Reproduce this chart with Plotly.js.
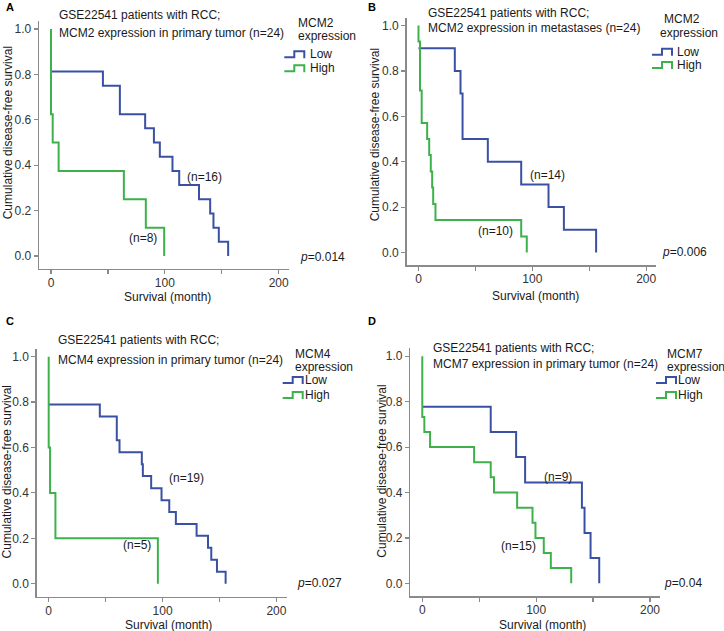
<!DOCTYPE html>
<html>
<head>
<meta charset="utf-8">
<script src="https://cdn.plot.ly/plotly-3.0.1.min.js"></script>
<style>html,body{margin:0;padding:0;background:#fff;}#chart{width:724px;height:631px;}</style>
</head>
<body>
<div id="chart"></div>
<script>
// ---- Data ----
const xTickVals = [0, 50, 100, 150, 200];
const xTickText = ['0', '', '100', '', '200'];
const yTickVals = [0, 0.2, 0.4, 0.6, 0.8, 1.0];
const groupNames = ['Low', 'High'];

// Panel A: MCM2 primary tumor
const aLowT  = [0, 45.6, 60.5, 82.7, 90.4, 95.6, 106.7, 112.6, 130, 139.8, 142.7, 147.4, 155.6];
const aLowS  = [0.8125, 0.75, 0.625, 0.5625, 0.5, 0.4375, 0.375, 0.3125, 0.25, 0.1875, 0.125, 0.0625, 0];
const aHighT = [0, 0, 1.5, 6.7, 64, 83.3, 99.4];
const aHighS = [1, 0.625, 0.5, 0.375, 0.25, 0.125, 0];

// Panel B: MCM2 metastases
const bLowT  = [0, 31.9, 36.9, 38.7, 60.9, 90.2, 114.2, 127.7, 156];
const bLowS  = [0.9, 0.8, 0.7, 0.5, 0.4, 0.3, 0.2, 0.1, 0];
const bHighT = [0, 0, 1.3, 2.8, 7.6, 9.4, 10.8, 12, 12.9, 14.9, 90.2, 95.1];
const bHighS = [1, 0.929, 0.714, 0.571, 0.5, 0.429, 0.357, 0.286, 0.214, 0.143, 0.071, 0];

// Panel C: MCM4 primary tumor
const cLowT  = [0, 44.9, 59.8, 62.2, 81.8, 82.7, 90, 99.1, 105.9, 111.7, 129.9, 139.9, 142.8, 147.8, 155.4];
const cLowS  = [0.789, 0.737, 0.632, 0.579, 0.526, 0.474, 0.421, 0.368, 0.316, 0.263, 0.211, 0.158, 0.105, 0.053, 0];
const cHighT = [0, 0, 1.2, 5.9, 95.9];
const cHighS = [1, 0.6, 0.4, 0.2, 0];

// Panel D: MCM7 primary tumor
const dLowT  = [0, 60.1, 82.4, 90.3, 140.2, 142.5, 147.8, 155.4];
const dLowS  = [0.778, 0.667, 0.556, 0.444, 0.333, 0.222, 0.111, 0];
const dHighT = [0, 0, 1.8, 6.8, 45.5, 60.1, 63, 83.3, 96.8, 99.4, 106.7, 112.9, 130.8];
const dHighS = [1, 0.733, 0.667, 0.6, 0.533, 0.467, 0.4, 0.333, 0.267, 0.2, 0.133, 0.067, 0];

const panelLetters = ['A', 'B', 'C', 'D'];
const genes = ['MCM2', 'MCM2', 'MCM4', 'MCM7'];
const titleLine1 = 'GSE22541 patients with RCC;';
const titleLine2 = ['MCM2 expression in primary tumor (n=24)', 'MCM2 expression in metastases (n=24)',
                    'MCM4 expression in primary tumor (n=24)', 'MCM7 expression in primary tumor (n=24)'];
const nLow  = ['(n=16)', '(n=14)', '(n=19)', '(n=9)'];
const nHigh = ['(n=8)', '(n=10)', '(n=5)', '(n=15)'];
const pValues = ['0.014', '0.006', '0.027', '0.04'];
const xTitle = 'Survival (month)';
const yTitle = 'Cumulative disease-free survival';

// ---- Layout geometry (pixels) ----
const W = 724, H = 631;
const fx = p => p / W;
const fy = p => 1 - p / H;
const XMIN = -10.5, XMAX = 209, YMIN = -0.057, YMAX = 1.035;
const PXM = 1.1385, PXU = 227;   // px per month, px per unit survival

const geo = [
  {x0: 51,    y0: 256,   title: [57.3, 15, 33.3], nL: [204, 177], nH: [142.7, 237.7], p: [297.7, 256.7],
   leg: {tx: [295.7, 295.7], ty: [22.7, 36], ix: 284.3, lx: 308, ly: [54.3, 68.3]}, xt: [167.7, 297], yt: [8.3, 133], lab: [4, 7]},
  {x0: 418.5, y0: 252.5, title: [426.3, 12.7, 28.3], nL: [547, 175], nH: [495.3, 230.7], p: [659.7, 252.3],
   leg: {tx: [662, 657.5], ty: [19.3, 33.3], ix: 652, lx: 675.3, ly: [51.7, 65]}, xt: [535.3, 295.5], yt: [375.3, 135], lab: [366, 7]},
  {x0: 48.7,  y0: 583.7, title: [56, 340, 360], nL: [186.7, 478.3], nH: [136.7, 545], p: [295, 583.3],
   leg: {tx: [293.3, 293.3], ty: [354.3, 367.3], ix: 282.7, lx: 303.3, ly: [380, 395]}, xt: [168.3, 624.5], yt: [6.7, 471.7], lab: [4, 321]},
  {x0: 422.3, y0: 583.3, title: [431.3, 348.3, 364.3], nL: [558, 477.3], nH: [518, 546], p: [662, 583.3],
   leg: {tx: [665, 665], ty: [354.3, 367.3], ix: 656, lx: 676.3, ly: [380, 395]}, xt: [542, 624.5], yt: [382, 471.7], lab: [366, 321]}
];

const BLUE = '#3a51a3', GREEN = '#3db24b';
const FONT = 'Arial, "Liberation Sans", sans-serif';
const TXT = '#1a1a1a';
const AXC = '#8a8a8a';

const series = [
  [aLowT, aLowS, aHighT, aHighS],
  [bLowT, bLowS, bHighT, bHighS],
  [cLowT, cLowS, cHighT, cHighS],
  [dLowT, dLowS, dHighT, dHighS]
];

const traces = [];
const layout = {
  width: W, height: H,
  margin: {l: 0, r: 0, t: 0, b: 0},
  paper_bgcolor: '#fff', plot_bgcolor: '#fff',
  showlegend: false,
  font: {family: FONT, size: 12, color: TXT},
  annotations: [], shapes: []
};

geo.forEach((g, i) => {
  const sfx = i === 0 ? '' : String(i + 1);
  const xa = 'x' + sfx, ya = 'y' + sfx;
  const left = g.x0 + XMIN * PXM, right = g.x0 + XMAX * PXM;
  const top = g.y0 - YMAX * PXU, bottom = g.y0 - YMIN * PXU;
  const axCommon = {
    showgrid: false, zeroline: false, showline: true, linecolor: AXC, linewidth: 1.5,
    ticks: 'outside', ticklen: 4, tickwidth: 1.2, tickcolor: AXC,
    tickfont: {family: FONT, size: 12, color: '#333'}, fixedrange: true
  };
  layout['xaxis' + sfx] = Object.assign({}, axCommon, {
    domain: [fx(left), fx(right)], range: [XMIN, XMAX], anchor: ya,
    tickmode: 'array', tickvals: xTickVals, ticktext: xTickText, ticklabelstandoff: -2
  });
  layout['yaxis' + sfx] = Object.assign({}, axCommon, {
    domain: [fy(bottom), fy(top)], range: [YMIN, YMAX], anchor: xa,
    tickmode: 'array', tickvals: yTickVals, tickformat: '.1f'
  });
  const s = series[i];
  traces.push({x: s[0], y: s[1], xaxis: xa, yaxis: ya, type: 'scatter', mode: 'lines',
               line: {shape: 'hv', color: BLUE, width: 2}, name: groupNames[0]});
  traces.push({x: s[2], y: s[3], xaxis: xa, yaxis: ya, type: 'scatter', mode: 'lines',
               line: {shape: 'hv', color: GREEN, width: 2}, name: groupNames[1]});

  const ann = (text, px, py, xanchor, extra) => layout.annotations.push(Object.assign({
    text, x: fx(px), y: fy(py), xref: 'paper', yref: 'paper', xanchor: xanchor || 'center', yanchor: 'middle',
    showarrow: false, font: {family: FONT, size: 12, color: TXT}
  }, extra || {}));

  ann(titleLine1, g.title[0], g.title[1], 'left');
  ann(titleLine2[i], g.title[0], g.title[2], 'left');
  ann(nLow[i], g.nL[0], g.nL[1]);
  ann(nHigh[i], g.nH[0], g.nH[1]);
  ann('<i>p</i>=' + pValues[i], g.p[0], g.p[1], 'left');
  ann(genes[i], g.leg.tx[0], g.leg.ty[0], 'left');
  ann('expression', g.leg.tx[1], g.leg.ty[1], 'left');
  ann(groupNames[0], g.leg.lx, g.leg.ly[0], 'left');
  ann(groupNames[1], g.leg.lx, g.leg.ly[1], 'left');
  ann(xTitle, g.xt[0], g.xt[1]);
  ann(yTitle, g.yt[0], g.yt[1], 'center', {textangle: -90});
  ann('<b>' + panelLetters[i] + '</b>', g.lab[0], g.lab[1], 'left', {font: {family: FONT, size: 11, color: '#000'}});

  // legend icons (step glyphs)
  [[BLUE, g.leg.ly[0]], [GREEN, g.leg.ly[1]]].forEach(([col, ly]) => {
    const x1 = g.leg.ix, x2 = x1 + 10, x3 = x1 + 20;
    const yb = ly + 3, yt = ly - 3;
    const path = `M ${fx(x1)} ${fy(yb)} L ${fx(x2)} ${fy(yb)} L ${fx(x2)} ${fy(yt)} L ${fx(x3)} ${fy(yt)} L ${fx(x3)} ${fy(yb + 1)}`;
    layout.shapes.push({type: 'path', xref: 'paper', yref: 'paper', path, line: {color: col, width: 2}});
  });
});

Plotly.newPlot('chart', traces, layout, {displayModeBar: false, staticPlot: true});
</script>
</body>
</html>
